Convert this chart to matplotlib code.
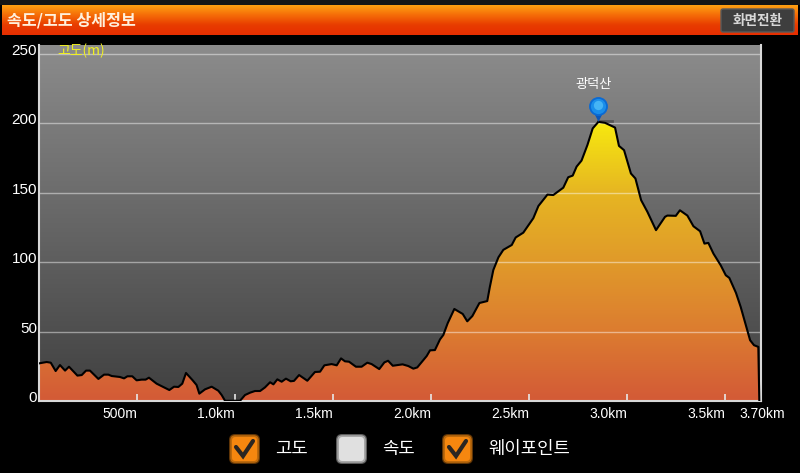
import numpy as np
import matplotlib
matplotlib.use('Agg')
import matplotlib.pyplot as plt
from matplotlib.colors import LinearSegmentedColormap
from matplotlib.patches import FancyBboxPatch, Rectangle

plt.rcParams['font.family'] = ['Noto Sans CJK KR', 'DejaVu Sans']

distance_km = [0, .039, .06, .085, .107, .133, .153, .196, .218, .24, .26, .303, .332, .354, .371, .413,
               .434, .451, .476, .498, .524, .544, .561, .6, .665, .689, .711, .731, .75, .784, .804, .818,
               .847, .881, .915, .932, .949, 1.026, 1.051, 1.077, 1.102, 1.128, 1.153, 1.179, 1.196, 1.216,
               1.238, 1.26, 1.284, 1.301, 1.327, 1.369, 1.408, 1.434, 1.456, 1.493, 1.519, 1.541, 1.561,
               1.582, 1.617, 1.646, 1.675, 1.697, 1.736, 1.762, 1.781, 1.805, 1.855, 1.884, 1.91, 1.93,
               1.978, 1.995, 2.02, 2.046, 2.063, 2.085, 2.119, 2.162, 2.185, 2.211, 2.247, 2.287, 2.3,
               2.318, 2.344, 2.369, 2.412, 2.432, 2.471, 2.522, 2.548, 2.594, 2.624, 2.675, 2.7, 2.723,
               2.743, 2.768, 2.798, 2.825, 2.854, 2.888, 2.939, 2.959, 2.985, 3.02, 3.043, 3.072, 3.104,
               3.148, 3.194, 3.206, 3.249, 3.27, 3.308, 3.339, 3.373, 3.395, 3.415, 3.441, 3.478, 3.504,
               3.522, 3.556, 3.58, 3.628, 3.648, 3.67, 3.675]
altitude_m = [27.1, 28.1, 27.6, 21.6, 25.9, 21.9, 24.7, 18.3, 18.7, 21.9, 21.9, 15.9, 19, 19, 18, 17.3,
              16.3, 17.8, 17.8, 14.9, 15.4, 15.4, 16.8, 12.5, 7.9, 10.3, 10.1, 12.5, 20.2, 14.9, 11.5, 5.3,
              8.4, 10.3, 7.4, 4.3, 0.2, 0.2, 4.3, 6, 7.2, 7.2, 9.8, 13.5, 12, 15.6,
              13.9, 16.1, 14.2, 14.5, 18.7, 14.6, 20.9, 21.1, 25.7, 26.6, 25.7, 30.7, 28.6,
              28.3, 24.7, 24.7, 27.6, 26.6, 23, 27.8, 29, 25.4, 26.4, 25.2, 23.3, 24.2,
              32.4, 36.5, 36.7, 44.4, 47.6, 56, 66.3, 62.7, 57.4, 61.2, 70.6, 72, 82,
              94.4, 103.5, 108.9, 112.4, 117.8, 121.3, 131.7, 140.5, 148.7, 148.4, 153.7, 161.2, 162.4,
              168.9, 173.2, 184.4, 196.4, 201.1, 200.4, 197, 183.8, 180.7, 163.9, 160.3, 144.7, 136.3,
              123.1, 132.7, 133.6, 133.4, 137.4, 133.6, 125.9, 122.3, 113.4, 113.9, 106.2, 97.8, 90.6,
              88.7, 77.9, 67.8, 43.8, 40.2, 39, 0.7]

y_ticks = [0, 50, 100, 150, 200, 250]
x_ticks = [0.5, 1.0, 1.5, 2.0, 2.5, 3.0, 3.5]
x_tick_labels = ['500m', '1.0km', '1.5km', '2.0km', '2.5km', '3.0km', '3.5km']
end_km = 3.70
end_label = '3.70km'

waypoint_name = '광덕산'
waypoint_km = 2.852
waypoint_m = 201

title = '속도/고도 상세정보'
button_text = '화면전환'
axis_title = '고도(m)'
legend_labels = ['고도', '속도', '웨이포인트']
legend_checked = [True, False, True]

W, H = 800, 473
XMAX = 722 / 196
YMAX = 356 / 1.388

fig = plt.figure(figsize=(W / 100, H / 100), dpi=100, facecolor='black')

# main chart
ax = fig.add_axes([39 / W, 1 - 401 / H, 722 / W, 356 / H])
bg_cmap = LinearSegmentedColormap.from_list('bg', ['#404040', '#8c8c8c'])
ax.imshow(np.linspace(1, 0, 256).reshape(-1, 1), cmap=bg_cmap, aspect='auto',
          extent=[0, XMAX, 0, YMAX], zorder=0)

poly = ax.fill_between(distance_km, altitude_m, 0, color='none', zorder=1)
fill_cmap = LinearSegmentedColormap.from_list(
    'fill', ['#d35a37', '#dc7c30', '#e09a2a', '#e6b622', '#f7e90f'])
img = ax.imshow(np.linspace(1, 0, 256).reshape(-1, 1), cmap=fill_cmap, aspect='auto',
                extent=[0, XMAX, 0, 201], zorder=1)
img.set_clip_path(poly.get_paths()[0], transform=ax.transData)
ax.plot(distance_km, altitude_m, color='black', lw=1.5, zorder=3)

for v in y_ticks[1:]:
    ax.axhline(v, color='white', alpha=0.45, lw=1, zorder=2)

ax.set_xlim(0, XMAX)
ax.set_ylim(0, YMAX)
ax.set_xticks(x_ticks)
ax.set_yticks([])
ax.set_xticklabels([])
ax.tick_params(axis='x', direction='in', length=5, width=1.2, color='#e8e8e8')
ax.spines['top'].set_visible(False)
for s in ['left', 'right', 'bottom']:
    ax.spines[s].set_color('#d8d8d8')
    ax.spines[s].set_linewidth(1.5)

for v in y_ticks:
    ax.annotate(str(v), (0, v), xytext=(-2, 3), textcoords='offset pixels', ha='right', va='center',
                color='white', fontsize=11, family='Liberation Sans', annotation_clip=False)
for t, lab in zip(x_ticks, x_tick_labels):
    ax.annotate(lab, (t, 0), xytext=(0, -13), textcoords='offset pixels', ha='right', va='center',
                color='white', fontsize=10, family='Liberation Sans', annotation_clip=False)
ax.annotate(end_label, (end_km, 0), xytext=(21, -13), textcoords='offset pixels', ha='right', va='center',
            color='white', fontsize=10, family='Liberation Sans', annotation_clip=False)

ax.annotate(axis_title, (0, 250), xytext=(18, 3), textcoords='offset pixels', va='center',
            color='#f2f21e', fontsize=10)

# waypoint pin
ax.plot([waypoint_km, waypoint_km + 0.07], [waypoint_m + 1, waypoint_m + 1], color='#303030', alpha=0.5, lw=2, zorder=2)
ax.scatter([waypoint_km], [waypoint_m + 4], marker='v', s=60, color='#0a55b8', linewidths=0, zorder=5)
ax.scatter([waypoint_km], [waypoint_m + 11.5], s=185, color='#0a6ad4', linewidths=0, zorder=6)
ax.scatter([waypoint_km], [waypoint_m + 11.5], s=120, color='#1a8eea', linewidths=0, zorder=7)
ax.scatter([waypoint_km], [waypoint_m + 12], s=45, color='#45b4f5', linewidths=0, zorder=8)
ax.annotate(waypoint_name, (waypoint_km, waypoint_m), xytext=(-4, 38), textcoords='offset pixels',
            ha='center', va='center', color='white', fontsize=9.5)

# overlay in pixel coordinates for header and check boxes
ui = fig.add_axes([0, 0, 1, 1], facecolor='none')
ui.axis('off')
ui.add_patch(Rectangle((0, 0), W, 5, color='#161616', lw=0))
header_cmap = LinearSegmentedColormap.from_list('hdr', ['#ffa012', '#f56c08', '#e83c00', '#e62e00'])
ui.imshow(np.linspace(0, 1, 64).reshape(-1, 1), cmap=header_cmap, aspect='auto', extent=[2, 798, 35, 5])
ui.add_patch(FancyBboxPatch((721, 9), 73, 23, boxstyle='round,pad=0,rounding_size=2',
                            facecolor='#3e3e3e', edgecolor='#5a5a5a', lw=1))
ui.set_xlim(0, W)
ui.set_ylim(H, 0)
ui.text(7, 20, title, color='#fff0dc', fontsize=11.6, fontweight='bold', va='center')
ui.text(758, 20.5, button_text, color='#d8d8d8', fontsize=9.8, fontweight='bold', ha='center', va='center')

for x0, x_text, lab, on in zip([229, 336, 442], [275, 382, 488], legend_labels, legend_checked):
    c1, c2, c3 = ('#5e3406', '#bd6a0c', '#f5870f') if on else ('#5c5c5c', '#a8a8a8', '#e0e0e0')
    ui.add_patch(FancyBboxPatch((x0, 434), 31, 30, boxstyle='round,pad=0,rounding_size=6',
                                facecolor=c1, edgecolor='none'))
    ui.add_patch(FancyBboxPatch((x0 + 1.2, 435.2), 28.6, 27.6, boxstyle='round,pad=0,rounding_size=5',
                                facecolor=c2, edgecolor='none'))
    ui.add_patch(FancyBboxPatch((x0 + 3, 437), 25, 24, boxstyle='round,pad=0,rounding_size=3.5',
                                facecolor=c3, edgecolor='none'))
    if on:
        ui.plot([x0 + 7, x0 + 14, x0 + 24], [447, 456, 441], color='#2a2622', lw=3,
                solid_capstyle='round', solid_joinstyle='miter')
    ui.text(x_text, 449, lab, color='white', fontsize=12.8, va='center')

fig.savefig('out.png', dpi=100, facecolor='black')
